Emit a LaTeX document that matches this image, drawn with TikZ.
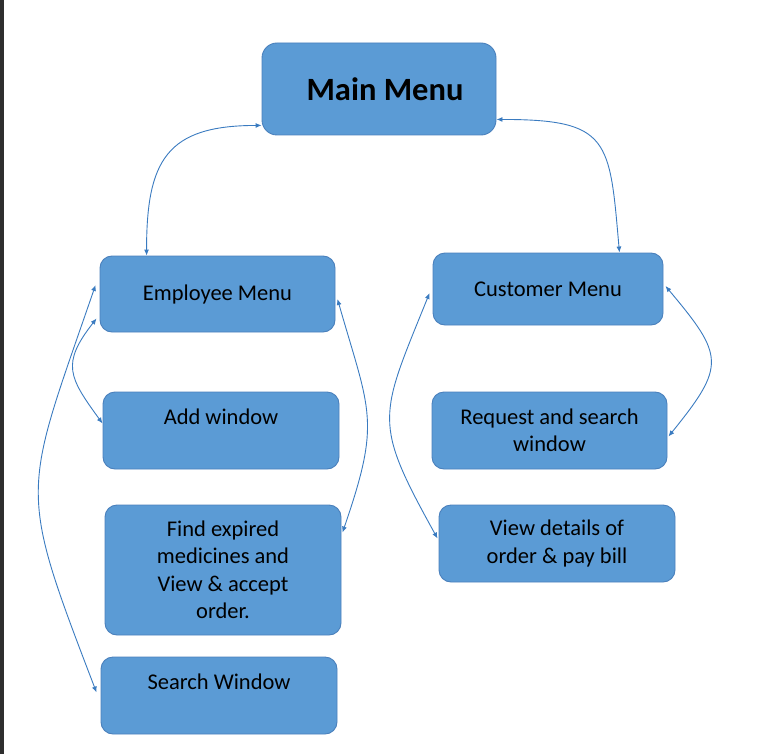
\documentclass[tikz,border=0pt]{standalone}
\usepackage{fontspec}
\setmainfont{Carlito}
\usepackage{xcolor}
\usepackage{tikz}
\usetikzlibrary{arrows.meta,calc}

\definecolor{boxfill}{HTML}{5B9BD5}
\definecolor{boxline}{HTML}{4A80BC}
\definecolor{linkblue}{HTML}{3A7BC0}

\begin{document}
\begin{tikzpicture}[x=1pt,y=1pt,>={Latex[length=6pt,width=5pt]},
  menubox/.style={draw=boxline,line width=0.9pt,fill=boxfill,rounded corners=12pt,align=center,
    inner sep=0pt,font=\fontsize{22.5}{27.5}\selectfont},
  link/.style={<->,draw=linkblue,line width=0.9pt}]
\useasboundingbox (0,0) rectangle (759,-754);
\fill[black!82] (0,0) rectangle (3.5,-754);
% menus
\node[menubox,rounded corners=15pt,minimum width=234pt,minimum height=92pt,
  font=\fontsize{32.5}{36}\selectfont\bfseries] (main) at (379,-89) {\hspace*{12pt}Main Menu};
\node[menubox,minimum width=235pt,minimum height=76pt] (emp) at (217.5,-294) {Employee Menu};
\node[menubox,minimum width=230pt,minimum height=72pt] (cust) at (548,-289) {Customer Menu};
% employee side
\node[menubox,minimum width=236pt,minimum height=77pt] (add) at (221,-430.5) {Add window\\\mbox{}};
\node[menubox,minimum width=236pt,minimum height=130pt] (find) at (223,-570) {Find expired\\medicines and\\View \& accept\\order.};
\node[menubox,minimum width=236pt,minimum height=77pt] (search) at (219,-695.5) {Search Window\\\mbox{}};
% customer side
\node[menubox,minimum width=235pt,minimum height=77pt] (req) at (549.5,-430.5) {Request and search\\window};
\node[menubox,minimum width=236pt,minimum height=77pt] (view) at (557,-543.5) {View details of\\order \& pay bill};
% links
\draw[link] ($(emp.north west)+(47,0)$) to[out=90,in=180,looseness=1.4] ($(main.south west)+(0,10)$);
\draw[link] ($(main.south east)+(0,16)$) to[out=0,in=95,looseness=1.6] ($(cust.north east)+(-44,0)$);
\draw[link] ($(emp.west)+(-4,9)$) to[out=251,in=111,looseness=1.4] ($(search.west)+(-4,3)$);
\draw[link] ($(emp.south west)+(-3,14)$) to[out=232,in=126,looseness=1.4] ($(add.west)+(0,7)$);
\draw[link] ($(emp.east)+(2,-5)$) to[out=-74,in=71,looseness=1.3] ($(find.north east)+(1,-28)$);
\draw[link] ($(cust.west)+(-3,-4)$) to[out=248,in=119,looseness=1.4] ($(view.west)+(-1,5)$);
\draw[link] ($(cust.east)+(2,3)$) to[out=-50,in=51,looseness=1.55] ($(req.east)+(1,-6)$);
\end{tikzpicture}
\end{document}
